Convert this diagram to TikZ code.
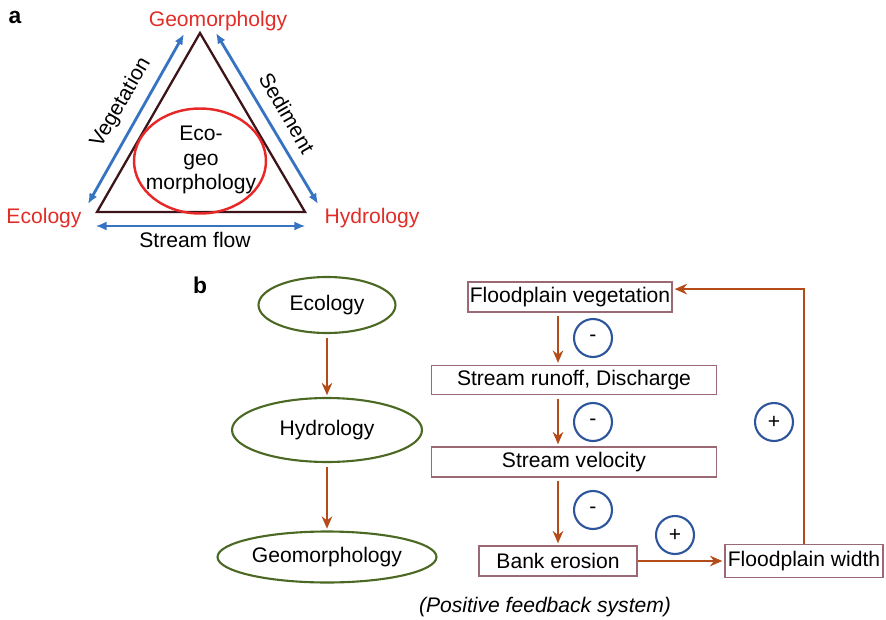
\documentclass[tikz,border=0pt]{standalone}
\usepackage{fontspec}
\setmainfont{Liberation Sans}
\usepackage{xcolor}
\usepackage{tikz}
\usetikzlibrary{arrows.meta, positioning, shapes.geometric, calc}

\definecolor{labelred}{RGB}{225,45,40}
\definecolor{ovalred}{RGB}{230,40,40}
\definecolor{arrowblue}{RGB}{55,115,195}
\definecolor{triline}{RGB}{60,20,25}
\definecolor{ovalgreen}{RGB}{75,105,35}
\definecolor{boxline}{RGB}{155,105,115}
\definecolor{flowbrown}{RGB}{180,75,25}
\definecolor{signblue}{RGB}{45,85,155}

\begin{document}
\begin{tikzpicture}[x=0.02cm, y=-0.02cm, font=\fontsize{12}{14}\selectfont,
    vlabel/.style={text=labelred},
    twoway/.style={arrowblue, line width=1.6pt, {Latex[length=6pt,width=5pt]}-{Latex[length=6pt,width=5pt]}},
    oval/.style={draw=ovalgreen, line width=1.2pt, ellipse, inner sep=0pt},
    stagebox/.style={draw=boxline, line width=1.1pt, rectangle, inner sep=1pt},
    flow/.style={flowbrown, line width=1.3pt, -{Stealth[length=7pt,width=6pt]}, shorten <=2pt, shorten >=1pt},
    sign/.style={draw=signblue, line width=1.2pt, circle, minimum size=0.76cm, inner sep=0pt, font=\fontsize{12}{14}\selectfont}]
  \useasboundingbox (0,0) rectangle (886,619);

  % panel a
  \node[font=\fontsize{13}{15}\selectfont\bfseries] (pa) at (15,17) {a};
  \coordinate (top) at (200,33);
  \coordinate (left) at (97,212);
  \coordinate (right) at (305,212);
  \draw[triline, line width=1.3pt] (top) -- (left) -- (right) -- cycle;
  \node[draw=ovalred, line width=1.4pt, ellipse, minimum width=2.64cm, minimum height=2.1cm] (ecogeo) at (200,161) {};
  \node[align=center] (ecogeotext) at (201,160) {Eco-\\geo\\morphology};

  \node[vlabel] (geo) at (218,21) {Geomorpholgy};
  \node[vlabel] (eco) at (44,218) {Ecology};
  \node[vlabel] (hyd) at (372,218) {Hydrology};
  \node[rotate=60, inner sep=0pt] (veg) at (121,103) {Vegetation};
  \node[rotate=-60, inner sep=0pt] (sed) at (287,113) {Sediment};
  \node (sflow) at (195,240) {Stream flow};

  \coordinate (v1) at (88,204);
  \coordinate (v2) at (184,34);
  \coordinate (s1) at (216,33);
  \coordinate (s2) at (318,204);
  \coordinate (f1) at (96,226);
  \coordinate (f2) at (305,226);
  \draw[twoway] (v1) -- (v2);
  \draw[twoway] (s1) -- (s2);
  \draw[twoway, line width=0.7pt] (f1) -- (f2);

  % panel b
  \node[font=\fontsize{13}{15}\selectfont\bfseries] (pb) at (200,285) {b};
  \node[oval, minimum width=2.74cm, minimum height=1.12cm] (ecology) at (327,305) {Ecology};
  \node[oval, minimum width=3.8cm, minimum height=1.28cm] (hydrology) at (327,430) {Hydrology};
  \node[oval, minimum width=4.38cm, minimum height=1.02cm] (geomorph) at (327,557) {Geomorphology};
  \draw[flow] (ecology) -- (hydrology);
  \draw[flow] (hydrology) -- (geomorph);

  \node[stagebox, minimum width=4.06cm, minimum height=0.6cm] (fveg) at (570,297) {Floodplain vegetation};
  \node[stagebox, minimum width=5.7cm, minimum height=0.58cm] (runoff) at (574,380) {Stream runoff, Discharge};
  \node[stagebox, minimum width=5.7cm, minimum height=0.6cm] (velocity) at (574,462) {Stream velocity};
  \node[stagebox, minimum width=3.16cm, minimum height=0.6cm] (bank) at (558,561) {Bank erosion};
  \node[stagebox, minimum width=3.16cm, minimum height=0.66cm] (fwidth) at (804,561) {Floodplain width};

  \draw[flow] (fveg.south -| bank.north) -- (runoff.north -| bank.north);
  \draw[flow] (runoff.south -| bank.north) -- (velocity.north -| bank.north);
  \draw[flow] (velocity.south -| bank.north) -- (bank.north);
  \draw[flow, shorten <=0pt] (bank) -- (fwidth);
  \draw[flow, shorten <=0pt] (fwidth.north) |- ([yshift=4.5pt]fveg.east);

  \foreach \x/\y/\s [count=\i] in {593/338/-, 593/422/-, 593/510/-, 675/535/+, 774/422/+} {
    \node[sign] (sign\i) at (\x,\y) {\s};
  }

  \node[font=\fontsize{12}{14}\selectfont\itshape] (caption) at (545,607) {(Positive feedback system)};
\end{tikzpicture}
\end{document}
